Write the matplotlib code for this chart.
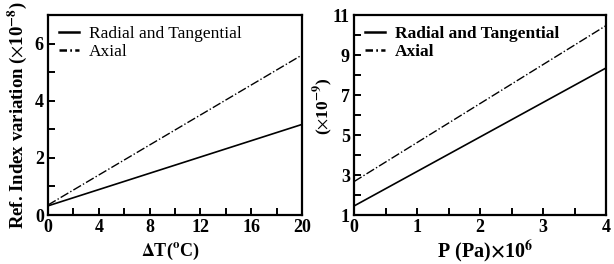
import numpy as np
from matplotlib import pyplot as plt
from matplotlib.ticker import MultipleLocator

plt.rcParams['font.family'] = ['Liberation Serif', 'DejaVu Serif']
plt.rcParams['mathtext.fontset'] = 'stix'

# DATA
dT = [0, 20]
dT_radial = [0.32, 3.17]
dT_axial = [0.35, 5.6]

P = [0, 4]
P_radial = [1.45, 8.35]
P_axial = [2.67, 10.47]

fig = plt.figure(figsize=(6.14, 2.64), dpi=100)
ax1 = fig.add_axes([48/614, 49/264, 254/614, 200/264])
ax2 = fig.add_axes([354/614, 49/264, 252/614, 200/264])

def style(ax):
    for s in ax.spines.values():
        s.set_linewidth(1.6)
    ax.tick_params(direction='in', which='both', width=1.4, labelsize=13, pad=3)
    ax.tick_params(which='major', length=5)
    ax.tick_params(which='minor', length=5)
    for t in ax.get_xticklabels() + ax.get_yticklabels():
        t.set_fontweight('bold')

def legend(ax, bold):
    leg = ax.legend(loc='upper left', frameon=False, fontsize=12.5, handlelength=1.15,
                    handletextpad=0.55, borderaxespad=0.35, labelspacing=0.1,
                    borderpad=0.3)
    lines = leg.get_lines()
    for h in lines:
        h.set_linewidth(1.8)
    lines[1].set_dashes((3, 1.3, 0.7, 1.3))
    if bold:
        for t in leg.get_texts():
            t.set_fontweight('bold')

# left
ax1.plot(dT, dT_radial, 'k-', lw=1.2, label='Radial and Tangential')
ax1.plot(dT, dT_axial, 'k-.', lw=1.0, label='Axial')
ax1.set_xlim(0, 20)
ax1.set_ylim(0, 7)
ax1.xaxis.set_major_locator(MultipleLocator(4))
ax1.xaxis.set_minor_locator(MultipleLocator(2))
ax1.yaxis.set_major_locator(MultipleLocator(2))
ax1.yaxis.set_minor_locator(MultipleLocator(1))
style(ax1)
ax1.set_xlabel(r'$\mathbf{\Delta}$T($\mathbf{^{o}}$C)', fontsize=13, fontweight='bold', labelpad=1)
ax1.xaxis.set_label_coords(0.48, -0.13)
ax1.set_ylabel(r'Ref. Index variation ($\times$10$^{\mathbf{-8}}$)', fontsize=13.5,
               fontweight='bold', labelpad=4)
legend(ax1, False)

# right
ax2.plot(P, P_radial, 'k-', lw=1.2, label='Radial and Tangential')
ax2.plot(P, P_axial, 'k-.', lw=1.0, label='Axial')
ax2.set_xlim(0, 4)
ax2.set_ylim(1, 11)
ax2.xaxis.set_major_locator(MultipleLocator(1))
ax2.xaxis.set_minor_locator(MultipleLocator(0.5))
ax2.set_yticks([1, 3, 5, 7, 9, 11])
ax2.yaxis.set_minor_locator(MultipleLocator(1))
style(ax2)
ax2.set_xlabel(r'P (Pa)$\mathbf{\times}$10$^{\mathbf{6}}$', fontsize=14.5, fontweight='bold')
ax2.xaxis.set_label_coords(0.52, -0.12)
ax2.set_ylabel(r'($\times$10$^{\mathbf{-9}}$)', fontsize=12.5, fontweight='bold')
ax2.yaxis.set_label_coords(-0.075, 0.545)
legend(ax2, True)

fig.savefig('out.png', dpi=100)
